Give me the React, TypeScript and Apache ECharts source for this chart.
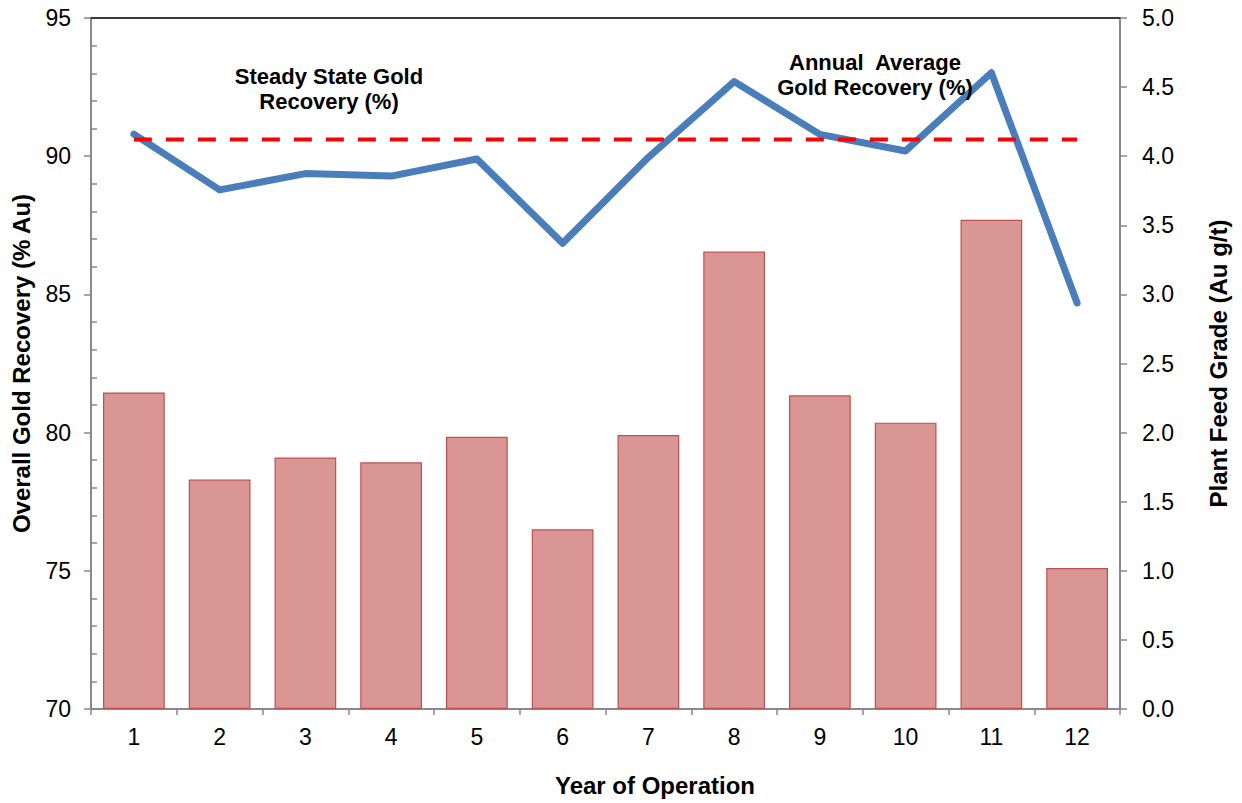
import React, { useEffect, useRef } from "react";
import * as echarts from "echarts";

// Year of operation (category axis)
const years = ["1", "2", "3", "4", "5", "6", "7", "8", "9", "10", "11", "12"];
// Overall gold recovery per year, % Au (left axis)
const recovery = [90.8, 88.78, 89.37, 89.28, 89.9, 86.85, 89.96, 92.7, 90.79, 90.19, 93.02, 84.69];
// Plant feed grade per year, Au g/t (right axis)
const feedGrade = [2.29, 1.66, 1.82, 1.785, 1.97, 1.3, 1.983, 3.31, 2.27, 2.072, 3.54, 1.02];
// Steady-state gold recovery reference level, %
const steadyState = 90.6;
const steadyStateLine = years.map(() => steadyState);

const FONT = 'Arial, "Liberation Sans", sans-serif';
const AXIS_GREY = "#898989";
const TITLE_SIZE = 24;

export default function App() {
  const ref = useRef<HTMLDivElement>(null);

  useEffect(() => {
    if (!ref.current) return;
    const chart = echarts.init(ref.current, undefined, { renderer: "svg" });
    chart.setOption({
      animation: false,
      backgroundColor: "#ffffff",
      textStyle: { fontFamily: FONT },
      grid: { left: 91, right: 122, top: 18, bottom: 94, containLabel: false },
      xAxis: [
        {
          type: "category",
          data: years,
          boundaryGap: true,
          axisLine: { lineStyle: { color: AXIS_GREY, width: 2 } },
          axisTick: { show: true, length: 6, lineStyle: { color: AXIS_GREY, width: 1.5 } },
          axisLabel: { color: "#000", fontSize: 23, margin: 16, fontFamily: FONT },
          name: "Year of Operation",
          nameLocation: "middle",
          nameGap: 64,
          nameTextStyle: {
            color: "#000",
            fontSize: TITLE_SIZE,
            fontWeight: "bold",
            fontFamily: FONT,
            padding: [0, 0, 0, 99],
          },
          splitLine: { show: false },
        },
        {
          type: "category",
          data: years,
          position: "top",
          axisLine: { lineStyle: { color: "#3a3a3a", width: 2 } },
          axisTick: { show: false },
          axisLabel: { show: false },
          splitLine: { show: false },
        },
      ],
      yAxis: [
        {
          type: "value",
          min: 70,
          max: 95,
          interval: 5,
          position: "left",
          axisLine: { show: true, lineStyle: { color: AXIS_GREY, width: 2 } },
          axisTick: { show: true, length: 7, lineStyle: { color: AXIS_GREY, width: 1.5 } },
          minorTick: { show: true, splitNumber: 5, length: -6, lineStyle: { color: AXIS_GREY, width: 1.5 } },
          axisLabel: { color: "#000", fontSize: 23, margin: 20, fontFamily: FONT },
          splitLine: { show: false },
          name: "Overall Gold Recovery (% Au)",
          nameLocation: "middle",
          nameRotate: 90,
          nameGap: 58,
          nameTextStyle: { color: "#000", fontSize: TITLE_SIZE, fontWeight: "bold", fontFamily: FONT },
        },
        {
          type: "value",
          min: 0,
          max: 5,
          interval: 0.5,
          position: "right",
          axisLine: { show: true, lineStyle: { color: AXIS_GREY, width: 2 } },
          axisTick: { show: true, length: 7, lineStyle: { color: AXIS_GREY, width: 1.5 } },
          axisLabel: {
            color: "#000",
            fontSize: 23,
            margin: 22,
            fontFamily: FONT,
            formatter: (v: number) => v.toFixed(1),
          },
          splitLine: { show: false },
          name: "Plant Feed Grade (Au g/t)",
          nameLocation: "middle",
          nameRotate: 90,
          nameGap: 86,
          nameTextStyle: { color: "#000", fontSize: TITLE_SIZE, fontWeight: "bold", fontFamily: FONT },
        },
      ],
      series: [
        {
          name: "Plant Feed Grade",
          type: "bar",
          xAxisIndex: 0,
          yAxisIndex: 1,
          data: feedGrade,
          barCategoryGap: "28%",
          itemStyle: { color: "#D99694", borderColor: "#C0504D", borderWidth: 1.2 },
          z: 1,
        },
        {
          name: "Annual Average Gold Recovery",
          type: "line",
          xAxisIndex: 0,
          yAxisIndex: 0,
          data: recovery,
          symbol: "none",
          lineStyle: { color: "#4A7EBB", width: 7, cap: "round", join: "round" },
          z: 3,
        },
        {
          name: "Steady State Gold Recovery",
          type: "line",
          xAxisIndex: 0,
          yAxisIndex: 0,
          data: steadyStateLine,
          symbol: "none",
          lineStyle: { color: "#FF0000", width: 4, type: [18, 14] },
          z: 4,
        },
      ],
      graphic: [
        {
          type: "text",
          x: 329,
          y: 89,
          z: 10,
          style: {
            text: "Steady State Gold\nRecovery (%)",
            align: "center",
            verticalAlign: "middle",
            font: `bold 22px ${FONT}`,
            lineHeight: 25,
            fill: "#000",
          },
        },
        {
          type: "text",
          x: 875,
          y: 75,
          z: 10,
          style: {
            text: "Annual  Average\nGold Recovery (%)",
            align: "center",
            verticalAlign: "middle",
            font: `bold 22px ${FONT}`,
            lineHeight: 25,
            fill: "#000",
          },
        },
      ],
    });
    return () => chart.dispose();
  }, []);

  return (
    <div
      ref={ref}
      style={{ position: "absolute", left: 0, top: 0, width: 1242, height: 803, background: "#fff" }}
    />
  );
}
